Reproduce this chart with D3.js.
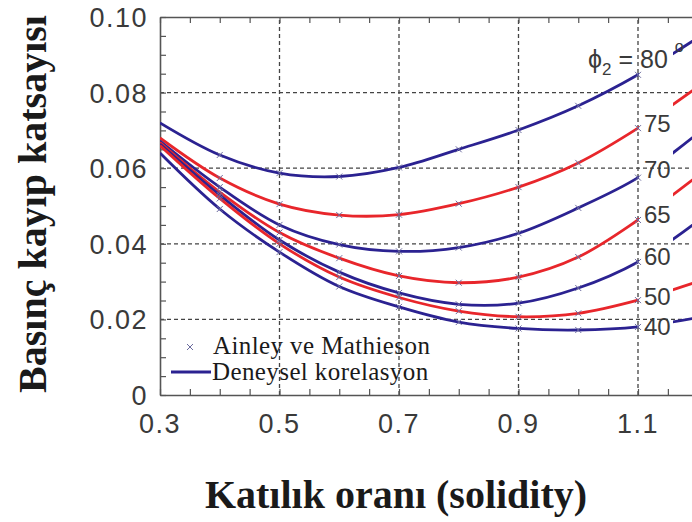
<!DOCTYPE html>
<html>
<head>
<meta charset="utf-8">
<script src="https://cdn.jsdelivr.net/npm/d3@7"></script>
<style>
  body { margin: 0; background: #fff; }
  .tick-label { font-family: "Liberation Sans", Arial, sans-serif; fill: #3a3a3a; }
  .title { font-family: "Liberation Serif", "Times New Roman", serif; font-weight: bold; fill: #1a1a1a; }
  .legend-text { font-family: "Liberation Serif", "Times New Roman", serif; fill: #1a1a1a; }
</style>
</head>
<body>
<div id="chart"></div>
<script>
var solidity = [0.3, 0.4, 0.5, 0.6, 0.7, 0.8, 0.9, 1.0, 1.1, 1.2]

// outlet angles (phi_2) and loss coefficient for each curve
var angles = [80, 75, 70, 65, 60, 50, 40]
var loss80 = [0.0720, 0.0635, 0.0587, 0.0578, 0.0602, 0.0650, 0.0701, 0.0765, 0.0847, 0.0945]
var loss75 = [0.0680, 0.0574, 0.0505, 0.0476, 0.0477, 0.0506, 0.0550, 0.0614, 0.0706, 0.0815]
var loss70 = [0.0672, 0.0550, 0.0450, 0.0398, 0.0380, 0.0390, 0.0428, 0.0495, 0.0575, 0.0692]
var loss65 = [0.0668, 0.0537, 0.0430, 0.0362, 0.0315, 0.0297, 0.0312, 0.0365, 0.0463, 0.0580]
var loss60 = [0.0664, 0.0529, 0.0410, 0.0325, 0.0270, 0.0240, 0.0243, 0.0283, 0.0352, 0.0460]
var loss50 = [0.0660, 0.0520, 0.0400, 0.0312, 0.0258, 0.0222, 0.0207, 0.0216, 0.0251, 0.0300]
var loss40 = [0.0640, 0.0492, 0.0378, 0.0287, 0.0233, 0.0193, 0.0176, 0.0172, 0.0180, 0.0205]

// ainley & mathieson points sit on the curves at these solidities
var markerSolidity = [0.4, 0.5, 0.6, 0.7, 0.8, 0.9, 1.0, 1.1]

var xTicks = [0.3, 0.5, 0.7, 0.9, 1.1]
var yTicks = [0, 0.02, 0.04, 0.06, 0.08, 0.10]
var yTickLabels = ["0", "0.02", "0.04", "0.06", "0.08", "0.10"]

var width = 692
var height = 522

var lossSeries = [loss80, loss75, loss70, loss65, loss60, loss50, loss40]
var colors = ["#2b2291", "#e8262b", "#2b2291", "#e8262b", "#2b2291", "#e8262b", "#2b2291"]

var xScale = d3.scaleLinear()
  .domain([0.3, 1.3])
  .range([160, 757.5])
var yScale = d3.scaleLinear()
  .domain([0, 0.10])
  .range([395, 17])

var svg = d3.select("#chart").append("svg")
    .attr("width", width)
    .attr("height", height)

svg.append("rect")
    .attr("width", width)
    .attr("height", height)
    .style("fill", "#fff")

//clip areas: curves stop at 1.1 for the labels and pick up again after them
var defs = svg.append("defs")
defs.append("clipPath").attr("id", "clip-main")
  .append("rect")
    .attr("x", xScale(0.3))
    .attr("y", 0)
    .attr("width", xScale(1.1) - xScale(0.3) + 1)
    .attr("height", height)
defs.append("clipPath").attr("id", "clip-right")
  .append("rect")
    .attr("x", 673)
    .attr("y", 0)
    .attr("width", 100)
    .attr("height", height)

//grid lines, dashed
var gridX = [0.5, 0.7, 0.9, 1.1]
var gridY = [0.02, 0.04, 0.06, 0.08]
svg.selectAll(".grid-x")
  .data(gridX)
  .enter()
  .append("line")
    .attr("x1", function(d) { return xScale(d) })
    .attr("x2", function(d) { return xScale(d) })
    .attr("y1", yScale(0))
    .attr("y2", yScale(0.10))
    .style("stroke", "#444")
    .style("stroke-width", 1.3)
    .style("stroke-dasharray", "4,3")
svg.selectAll(".grid-y")
  .data(gridY)
  .enter()
  .append("line")
    .attr("x1", xScale(0.3))
    .attr("x2", width)
    .attr("y1", function(d) { return yScale(d) })
    .attr("y2", function(d) { return yScale(d) })
    .style("stroke", "#444")
    .style("stroke-width", 1.3)
    .style("stroke-dasharray", "4,3")

//axes with inward ticks, the label text is done by hand below
var xAxis = d3.axisBottom(xScale)
  .tickValues(d3.range(0.3, 1.31, 0.05))
  .tickSizeInner(-6)
  .tickSizeOuter(0)
  .tickFormat("")
svg.append("g")
  .attr("transform", "translate(0," + yScale(0) + ")")
  .call(xAxis)
var xAxisTop = d3.axisTop(xScale)
  .tickValues(d3.range(0.3, 1.31, 0.05))
  .tickSizeInner(-6)
  .tickSizeOuter(0)
  .tickFormat("")
svg.append("g")
  .attr("transform", "translate(0," + yScale(0.10) + ")")
  .call(xAxisTop)
var yAxis = d3.axisLeft(yScale)
  .tickValues(d3.range(0, 0.1001, 0.005))
  .tickSizeInner(-6)
  .tickSizeOuter(0)
  .tickFormat("")
svg.append("g")
  .attr("transform", "translate(" + xScale(0.3) + ",0)")
  .call(yAxis)

svg.selectAll(".domain").style("stroke", "#555").style("stroke-width", 1.6)
svg.selectAll(".tick line").style("stroke", "#555").style("stroke-width", 1.2)

svg.selectAll(".x-label")
  .data(xTicks)
  .enter()
  .append("text")
    .attr("class", "tick-label")
    .attr("x", function(d) { return xScale(d) })
    .attr("y", 433)
    .attr("text-anchor", "middle")
    .style("font-size", "27px")
    .style("letter-spacing", "1.5px")
    .text(function(d) { return d3.format(".1f")(d) })

svg.selectAll(".y-label")
  .data(yTicks)
  .enter()
  .append("text")
    .attr("class", "tick-label")
    .attr("x", 148)
    .attr("y", function(d) { return yScale(d) + 10 })
    .attr("text-anchor", "end")
    .style("font-size", "27px")
    .style("letter-spacing", "1.5px")
    .text(function(d, i) { return yTickLabels[i] })

//the curves
var valueline = d3.line()
  .x(function(d, i) { return xScale(solidity[i]) })
  .y(function(d) { return yScale(d) })
  .curve(d3.curveCatmullRom.alpha(0.5))

var clips = ["clip-main", "clip-right"]
for (var c = 0; c < clips.length; c++) {
  svg.append("g")
    .attr("clip-path", "url(#" + clips[c] + ")")
    .selectAll("path")
    .data(lossSeries)
    .enter()
    .append("path")
      .attr("d", function(d) { return valueline(d) })
      .style("fill", "none")
      .style("stroke", function(d, i) { return colors[i] })
      .style("stroke-width", 2.8)
}

//small x markers on the curves
var markerData = []
lossSeries.forEach(function(s) {
  markerSolidity.forEach(function(m) {
    var idx = solidity.indexOf(m)
    markerData.push([m, s[idx]])
  })
})
svg.selectAll(".am-marker")
  .data(markerData)
  .enter()
  .append("path")
    .attr("class", "am-marker")
    .attr("d", function(d) {
      var x = xScale(d[0]), y = yScale(d[1]), r = 3
      return "M" + (x - r) + "," + (y - r) + "L" + (x + r) + "," + (y + r) +
             "M" + (x - r) + "," + (y + r) + "L" + (x + r) + "," + (y - r)
    })
    .style("stroke", "#6b6b9e")
    .style("stroke-width", 1)

//curve labels next to 1.1
var labelY = [68, 132, 178, 223, 265, 305, 335]
svg.selectAll(".curve-label")
  .data(angles.slice(1))
  .enter()
  .append("text")
    .attr("class", "tick-label")
    .attr("x", xScale(1.1) + 6)
    .attr("y", function(d, i) { return labelY[i + 1] })
    .style("font-size", "24px")
    .text(function(d) { return d })

var phiLabel = svg.append("text")
    .attr("class", "tick-label")
    .attr("x", 588)
    .attr("y", labelY[0])
    .style("font-size", "25px")
phiLabel.append("tspan").text("ϕ")
phiLabel.append("tspan").attr("dy", 7).style("font-size", "17px").text("2")
phiLabel.append("tspan").attr("dy", -7).text(" = " + angles[0] + " ")
phiLabel.append("tspan").attr("dy", -16).style("font-size", "16px").text("o")

//legend
svg.append("path")
    .attr("d", "M187,344L193,350M187,350L193,344")
    .style("stroke", "#6b6b9e")
    .style("stroke-width", 1)
svg.append("line")
    .attr("x1", 171)
    .attr("x2", 211)
    .attr("y1", 372)
    .attr("y2", 372)
    .style("stroke", "#2b2291")
    .style("stroke-width", 3)
svg.append("text")
    .attr("class", "legend-text")
    .attr("x", 213)
    .attr("y", 354)
    .style("font-size", "25px")
    .style("letter-spacing", "0.4px")
    .text("Ainley ve Mathieson")
svg.append("text")
    .attr("class", "legend-text")
    .attr("x", 212)
    .attr("y", 380)
    .style("font-size", "25px")
    .style("letter-spacing", "0.4px")
    .text("Deneysel korelasyon")

//axis titles
svg.append("text")
    .attr("class", "title")
    .attr("x", 396)
    .attr("y", 508)
    .attr("text-anchor", "middle")
    .style("font-size", "40px")
    .text("Katılık oranı (solidity)")

svg.append("text")
    .attr("class", "title")
    .attr("transform", "translate(46,204) rotate(270)")
    .attr("text-anchor", "middle")
    .style("font-size", "40px")
    .text("Basınç kayıp katsayısı")
</script>
</body>
</html>
